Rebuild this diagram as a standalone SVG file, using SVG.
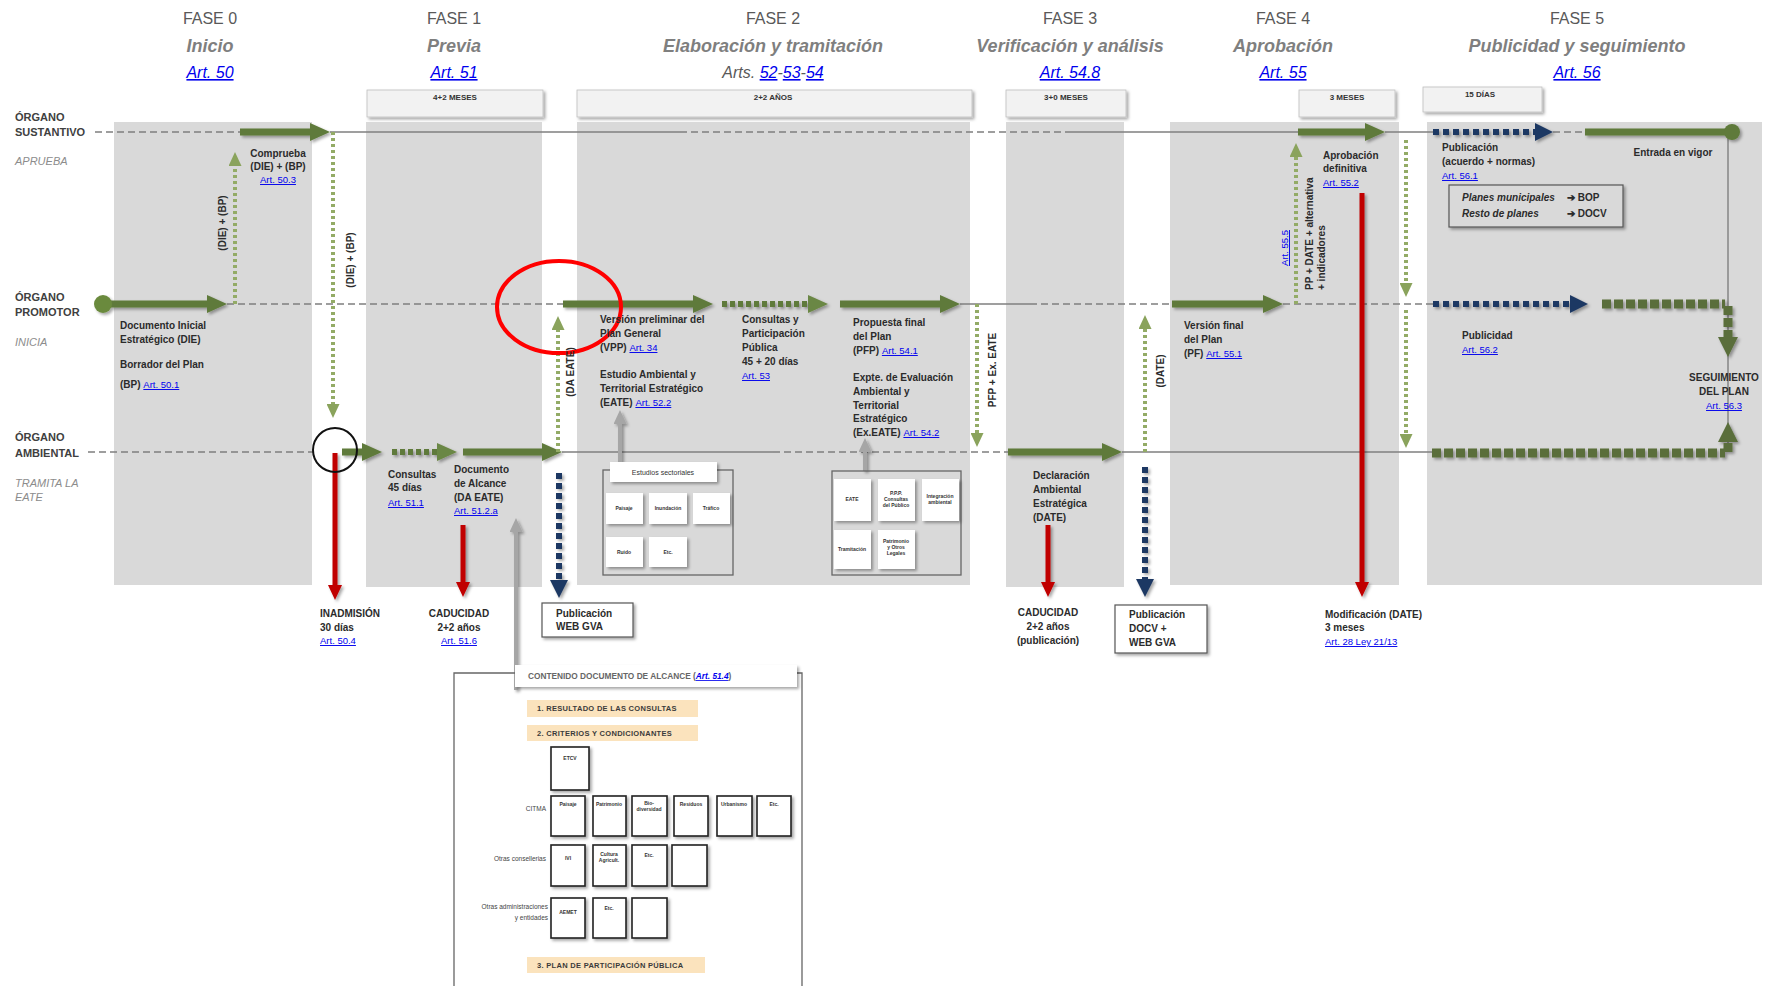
<svg xmlns="http://www.w3.org/2000/svg" width="1765" height="986" viewBox="0 0 1765 986">
<defs>
<style>
text{font-family:"Liberation Sans",Arial,sans-serif;}
.fase{font-size:16px;fill:#595959;text-anchor:middle;}
.ttl{font-size:18px;font-weight:bold;font-style:italic;fill:#7f7f7f;text-anchor:middle;}
.art{font-size:16px;font-style:italic;fill:#0000ee;text-decoration:underline;}
.lane{font-size:11px;font-weight:bold;fill:#404040;}
.role{font-size:11px;font-style:italic;fill:#8c8c8c;}
.t{font-size:10px;font-weight:bold;fill:#2b2b2b;}
.l{font-size:9.5px;fill:#0000ee;text-decoration:underline;font-weight:normal;}
.hd{font-size:8px;font-weight:bold;fill:#333;text-anchor:middle;}
.panel{fill:#d9d9d9;}
.hbox{fill:#f2f2f2;stroke:#bfbfbf;stroke-width:0.8;}
.thick{stroke:#5f7a3b;stroke-width:7;fill:none;}
.dotg{stroke:#93ab66;stroke-width:4;stroke-dasharray:3 3;fill:none;}
.dotd{stroke:#5f7a3b;stroke-width:6;stroke-dasharray:5 3;fill:none;}
.navy{stroke:#1f3864;stroke-width:6;stroke-dasharray:6 4;fill:none;}
.sq{stroke:#5a6e3a;stroke-width:9;stroke-dasharray:9 3;fill:none;}
.red{stroke:#c00000;stroke-width:5;fill:none;}
.gray{stroke:#a6a6a6;stroke-width:4;fill:none;}
.lane-s{stroke:#7f7f7f;stroke-width:1.4;fill:none;}
.lane-d{stroke:#7f7f7f;stroke-width:1.4;stroke-dasharray:7 4;fill:none;}
.card{fill:#fff;stroke:#222;stroke-width:1.6;}
.scard{fill:#fff;stroke:none;}
.ct{font-size:5px;font-weight:bold;fill:#333;text-anchor:middle;}
.bar{fill:#fbe3bd;}
.bt{font-size:7.5px;font-weight:bold;fill:#3b3b3b;letter-spacing:0.3px;}
.side{font-size:6.5px;fill:#444;text-anchor:end;}
</style>
<filter id="sh" x="-20%" y="-20%" width="150%" height="150%">
<feDropShadow dx="2" dy="2" stdDeviation="1.5" flood-color="#000" flood-opacity="0.35"/>
</filter>
<marker id="hG" markerUnits="userSpaceOnUse" markerWidth="20" markerHeight="18" refX="0" refY="9" orient="auto"><path d="M0,0 L20,9 L0,18 z" fill="#5f7a3b"/></marker>
<marker id="hGd" markerUnits="userSpaceOnUse" markerWidth="20" markerHeight="18" refX="0" refY="9" orient="auto"><path d="M0,0 L20,9 L0,18 z" fill="#6b8744"/></marker>
<marker id="hL" markerUnits="userSpaceOnUse" markerWidth="14" markerHeight="13" refX="0" refY="6.5" orient="auto"><path d="M0,0 L14,6.5 L0,13 z" fill="#8aa35c"/></marker>
<marker id="hN" markerUnits="userSpaceOnUse" markerWidth="18" markerHeight="18" refX="0" refY="9" orient="auto"><path d="M0,0 L18,9 L0,18 z" fill="#1f3864"/></marker>
<marker id="hR" markerUnits="userSpaceOnUse" markerWidth="15" markerHeight="14" refX="0" refY="7" orient="auto"><path d="M0,0 L15,7 L0,14 z" fill="#c00000"/></marker>
<marker id="hA" markerUnits="userSpaceOnUse" markerWidth="14" markerHeight="13" refX="0" refY="6.5" orient="auto"><path d="M0,0 L14,6.5 L0,13 z" fill="#a6a6a6"/></marker>
<marker id="hS" markerUnits="userSpaceOnUse" markerWidth="20" markerHeight="20" refX="0" refY="10" orient="auto"><path d="M0,0 L20,10 L0,20 z" fill="#5a6e3a"/></marker>
</defs>
<rect width="1765" height="986" fill="#fff"/>

<!-- headers -->
<g id="headers">
<text class="fase" x="210" y="24">FASE 0</text>
<text class="ttl" x="210" y="52">Inicio</text>
<text class="art" x="210" y="78" text-anchor="middle">Art. 50</text>
<text class="fase" x="454" y="24">FASE 1</text>
<text class="ttl" x="454" y="52">Previa</text>
<text class="art" x="454" y="78" text-anchor="middle">Art. 51</text>
<text class="fase" x="773" y="24">FASE 2</text>
<text class="ttl" x="773" y="52">Elaboración y tramitación</text>
<text x="773" y="78" text-anchor="middle" style="font-size:16px;font-style:italic;fill:#595959">Arts. <tspan fill="#0000ee" text-decoration="underline">52</tspan>-<tspan fill="#0000ee" text-decoration="underline">53</tspan>-<tspan fill="#0000ee" text-decoration="underline">54</tspan></text>
<text class="fase" x="1070" y="24">FASE 3</text>
<text class="ttl" x="1070" y="52">Verificación y análisis</text>
<text class="art" x="1070" y="78" text-anchor="middle">Art. 54.8</text>
<text class="fase" x="1283" y="24">FASE 4</text>
<text class="ttl" x="1283" y="52">Aprobación</text>
<text class="art" x="1283" y="78" text-anchor="middle">Art. 55</text>
<text class="fase" x="1577" y="24">FASE 5</text>
<text class="ttl" x="1577" y="52">Publicidad y seguimiento</text>
<text class="art" x="1577" y="78" text-anchor="middle">Art. 56</text>
</g>

<!-- duration boxes -->
<g id="durations">
<rect class="hbox" x="367" y="90" width="176" height="27" filter="url(#sh)"/>
<text class="hd" x="455" y="100">4+2 MESES</text>
<rect class="hbox" x="577" y="90" width="395" height="27" filter="url(#sh)"/>
<text class="hd" x="773" y="100">2+2 AÑOS</text>
<rect class="hbox" x="1006" y="90" width="120" height="27" filter="url(#sh)"/>
<text class="hd" x="1066" y="100">3+0 MESES</text>
<rect class="hbox" x="1299" y="90" width="96" height="27" filter="url(#sh)"/>
<text class="hd" x="1347" y="100">3 MESES</text>
<rect class="hbox" x="1423" y="87" width="119" height="25" filter="url(#sh)"/>
<text class="hd" x="1480" y="97">15 DÍAS</text>
</g>

<!-- phase panels -->
<g id="panels">
<rect class="panel" x="114" y="122" width="198" height="463"/>
<rect class="panel" x="366" y="122" width="176" height="465"/>
<rect class="panel" x="577" y="122" width="393" height="463"/>
<rect class="panel" x="1006" y="122" width="118" height="465"/>
<rect class="panel" x="1170" y="122" width="229" height="463"/>
<rect class="panel" x="1427" y="122" width="335" height="463"/>
</g>

<!-- lanes -->
<g id="lanes">
<text class="lane" x="15" y="121">ÓRGANO</text>
<text class="lane" x="15" y="136">SUSTANTIVO</text>
<text class="role" x="15" y="165">APRUEBA</text>
<text class="lane" x="15" y="301">ÓRGANO</text>
<text class="lane" x="15" y="316">PROMOTOR</text>
<text class="role" x="15" y="346">INICIA</text>
<text class="lane" x="15" y="441">ÓRGANO</text>
<text class="lane" x="15" y="457">AMBIENTAL</text>
<text class="role" x="15" y="487">TRAMITA LA</text>
<text class="role" x="15" y="501">EATE</text>
<path class="lane-d" d="M95,132 H240"/>
<path class="lane-s" d="M330,132 H680"/>
<path class="lane-d" d="M680,132 H1070"/>
<path class="lane-s" d="M1070,132 H1298"/>
<path class="lane-s" d="M1385,132 H1433"/>
<path class="lane-d" d="M1553,132 H1585"/>
<path class="lane-d" d="M227,304 H563"/>
<path class="lane-s" d="M960,304 H1030"/>
<path class="lane-d" d="M1030,304 H1172"/>
<path class="lane-d" d="M1283,304 H1433"/>
<path class="lane-d" d="M88,452 H313"/>
<path class="lane-s" d="M562,452 H773"/>
<path class="lane-d" d="M773,452 H1008"/>
<path class="lane-s" d="M1122,452 H1432"/>
<path class="lane-s" d="M1728,132 V452" stroke="#666"/>
</g>

<!-- connectors -->
<g id="connectors">
<g filter="url(#sh)">
<line class="thick" x1="240" y1="132" x2="310" y2="132" marker-end="url(#hG)"/>
<line class="thick" x1="103" y1="304" x2="207" y2="304" marker-end="url(#hG)"/>
<circle cx="103" cy="304" r="9" fill="#6b8a3e"/>
<line class="thick" x1="563" y1="304" x2="693" y2="304" marker-end="url(#hG)"/>
<line class="dotd" x1="722" y1="304" x2="808" y2="304" marker-end="url(#hGd)"/>
<line class="thick" x1="840" y1="304" x2="940" y2="304" marker-end="url(#hG)"/>
<line class="thick" x1="1172" y1="304" x2="1263" y2="304" marker-end="url(#hG)"/>
<line class="thick" x1="342" y1="452" x2="362" y2="452" marker-end="url(#hG)"/>
<line class="dotd" x1="392" y1="452" x2="437" y2="452" marker-end="url(#hGd)"/>
<line class="thick" x1="463" y1="452" x2="542" y2="452" marker-end="url(#hG)"/>
<line class="thick" x1="1008" y1="452" x2="1102" y2="452" marker-end="url(#hG)"/>
<line class="thick" x1="1298" y1="132" x2="1365" y2="132" marker-end="url(#hG)"/>
<line class="navy" x1="1433" y1="132" x2="1535" y2="132" marker-end="url(#hN)"/>
<line class="thick" x1="1585" y1="132" x2="1732" y2="132"/>
<circle cx="1732" cy="132" r="8" fill="#5f7a3b"/>
<line class="navy" x1="1433" y1="304" x2="1570" y2="304" marker-end="url(#hN)"/>
<line class="sq" x1="1602" y1="304" x2="1725" y2="304"/>
<line class="sq" x1="1432" y1="453" x2="1725" y2="453"/>
<line class="sq" x1="1728" y1="306" x2="1728" y2="337" stroke-width="6" stroke-dasharray="4 3" marker-end="url(#hS)"/>
<line class="sq" x1="1728" y1="452" x2="1728" y2="442" stroke-width="6" marker-end="url(#hS)"/>
</g>
<line class="dotg" x1="235" y1="304" x2="235" y2="166" marker-end="url(#hL)"/>
<line class="dotg" x1="333" y1="132" x2="333" y2="404" marker-end="url(#hL)"/>
<line class="dotg" x1="558" y1="452" x2="558" y2="330" marker-end="url(#hL)"/>
<line class="dotg" x1="977" y1="304" x2="977" y2="433" marker-end="url(#hL)"/>
<line class="dotg" x1="1145" y1="452" x2="1145" y2="329" marker-end="url(#hL)"/>
<line class="dotg" x1="1296" y1="304" x2="1296" y2="157" marker-end="url(#hL)"/>
<line class="dotg" x1="1406" y1="140" x2="1406" y2="283" marker-end="url(#hL)"/>
<line class="dotg" x1="1406" y1="310" x2="1406" y2="434" marker-end="url(#hL)"/>
<g filter="url(#sh)">
<line class="navy" x1="559" y1="473" x2="559" y2="580" marker-end="url(#hN)"/>
<line class="navy" x1="1145" y1="467" x2="1145" y2="579" marker-end="url(#hN)"/>
<line class="red" x1="335" y1="453" x2="335" y2="585" marker-end="url(#hR)"/>
<line class="red" x1="463" y1="525" x2="463" y2="582" marker-end="url(#hR)"/>
<line class="red" x1="1048" y1="525" x2="1048" y2="582" marker-end="url(#hR)"/>
<line class="red" x1="1362" y1="193" x2="1362" y2="582" marker-end="url(#hR)"/>
<line class="gray" x1="620" y1="462" x2="620" y2="424" marker-end="url(#hA)"/>
<line class="gray" x1="865" y1="471" x2="865" y2="452" marker-end="url(#hA)"/>
<line class="gray" x1="516" y1="690" x2="516" y2="532" marker-end="url(#hA)"/>
</g>
<circle cx="335" cy="450" r="22" fill="none" stroke="#111" stroke-width="2"/>
<ellipse cx="559" cy="307" rx="62" ry="46" fill="none" stroke="#ff0000" stroke-width="4"/>
</g>

<!-- phase 0 nodes -->
<g id="n-comprueba">
<text class="t" x="278" y="157" text-anchor="middle">Comprueba</text>
<text class="t" x="278" y="170" text-anchor="middle">(DIE) + (BP)</text>
<text class="l" x="278" y="183" text-anchor="middle">Art. 50.3</text>
</g>
<g id="n-die">
<text class="t" x="120" y="329">Documento Inicial</text>
<text class="t" x="120" y="343">Estratégico  (DIE)</text>
<text class="t" x="120" y="368">Borrador del Plan</text>
<text class="t" x="120" y="388">(BP) <tspan class="l">Art. 50.1</tspan></text>
</g>
<g id="lbl-rot">
<text class="t" transform="translate(226,223) rotate(-90)" text-anchor="middle" font-size="9.5">(DIE) + (BP)</text>
<text class="t" transform="translate(354,260) rotate(-90)" text-anchor="middle" font-size="9.5">(DIE) + (BP)</text>
<text class="t" transform="translate(574,372) rotate(-90)" text-anchor="middle">(DA EATE)</text>
<text class="t" transform="translate(996,370) rotate(-90)" text-anchor="middle" font-size="9.5">PFP + Ex. EATE</text>
<text class="t" transform="translate(1164,371) rotate(-90)" text-anchor="middle">(DATE)</text>
<text class="l" transform="translate(1288,248) rotate(-90)" text-anchor="middle" font-size="9">Art. 55.5</text>
<text class="t" transform="translate(1313,290) rotate(-90)" font-size="8">PP + DATE + alternativa</text>
<text class="t" transform="translate(1325,290) rotate(-90)" font-size="8">+ indicadores</text>
</g>
<g id="n-inadmision">
<text class="t" x="320" y="617">INADMISIÓN</text>
<text class="t" x="320" y="631" font-weight="normal">30 días</text>
<text class="l" x="320" y="644">Art. 50.4</text>
</g>

<!-- phase 1 -->
<g id="n-consultas1">
<text class="t" x="388" y="478">Consultas</text>
<text class="t" x="388" y="491">45 días</text>
<text class="l" x="388" y="506">Art. 51.1</text>
</g>
<g id="n-alcance">
<text class="t" x="454" y="473">Documento</text>
<text class="t" x="454" y="487">de Alcance</text>
<text class="t" x="454" y="501">(DA EATE)</text>
<text class="l" x="454" y="514">Art. 51.2.a</text>
</g>
<g id="n-caducidad1">
<text class="t" x="459" y="617" text-anchor="middle">CADUCIDAD</text>
<text class="t" x="459" y="631" text-anchor="middle" font-weight="normal">2+2 años</text>
<text class="l" x="459" y="644" text-anchor="middle">Art. 51.6</text>
</g>
<g id="n-webgva">
<rect x="542" y="603" width="91" height="34" fill="#fff" stroke="#555" stroke-width="1.2" filter="url(#sh)"/>
<text class="t" x="556" y="617">Publicación</text>
<text class="t" x="556" y="630">WEB GVA</text>
</g>

<!-- phase 2 -->
<g id="n-vpp">
<text class="t" x="600" y="323">Versión preliminar del</text>
<text class="t" x="600" y="337">Plan General</text>
<text class="t" x="600" y="351">(VPP) <tspan class="l">Art. 34</tspan></text>
</g>
<g id="n-eate">
<text class="t" x="600" y="378">Estudio Ambiental y</text>
<text class="t" x="600" y="392">Territorial Estratégico</text>
<text class="t" x="600" y="406">(EATE) <tspan class="l">Art. 52.2</tspan></text>
</g>
<g id="n-consultas2">
<text class="t" x="742" y="323">Consultas y</text>
<text class="t" x="742" y="337">Participación</text>
<text class="t" x="742" y="351">Pública</text>
<text class="t" x="742" y="365" font-weight="normal">45  + 20 días</text>
<text class="l" x="742" y="379">Art. 53</text>
</g>
<g id="n-pfp">
<text class="t" x="853" y="326">Propuesta final</text>
<text class="t" x="853" y="340">del Plan</text>
<text class="t" x="853" y="354">(PFP) <tspan class="l">Art. 54.1</tspan></text>
</g>
<g id="n-expte">
<text class="t" x="853" y="381">Expte. de Evaluación</text>
<text class="t" x="853" y="395">Ambiental y</text>
<text class="t" x="853" y="409">Territorial</text>
<text class="t" x="853" y="422">Estratégico</text>
<text class="t" x="853" y="436">(Ex.EATE) <tspan class="l">Art. 54.2</tspan></text>
</g>
<g id="n-estudios">
<rect x="603" y="470" width="130" height="105" fill="none" stroke="#666" stroke-width="1.3"/>
<rect x="610" y="462" width="107" height="20" fill="#fff" filter="url(#sh)"/>
<text x="663" y="475" text-anchor="middle" style="font-size:7px;fill:#333">Estudios sectoriales</text>
<g filter="url(#sh)">
<rect class="scard" x="606" y="493" width="37" height="31"/>
<rect class="scard" x="649" y="493" width="38" height="31"/>
<rect class="scard" x="693" y="493" width="37" height="31"/>
<rect class="scard" x="606" y="537" width="37" height="30"/>
<rect class="scard" x="649" y="537" width="38" height="30"/>
</g>
<text class="ct" x="624" y="510">Paisaje</text>
<text class="ct" x="668" y="510">Inundación</text>
<text class="ct" x="711" y="510">Tráfico</text>
<text class="ct" x="624" y="554">Ruido</text>
<text class="ct" x="668" y="554">Etc.</text>
</g>
<g id="n-exptebox">
<rect x="832" y="471" width="129" height="104" fill="none" stroke="#666" stroke-width="1.3"/>
<g filter="url(#sh)">
<rect class="scard" x="834" y="479" width="37" height="42"/>
<rect class="scard" x="878" y="479" width="37" height="42"/>
<rect class="scard" x="922" y="479" width="37" height="42"/>
<rect class="scard" x="834" y="530" width="37" height="39"/>
<rect class="scard" x="878" y="530" width="37" height="39"/>
</g>
<text class="ct" x="852" y="501">EATE</text>
<text class="ct" x="896" y="495">P.P.P.</text>
<text class="ct" x="896" y="501">Consultas</text>
<text class="ct" x="896" y="507">del Público</text>
<text class="ct" x="940" y="498">Integración</text>
<text class="ct" x="940" y="504">ambiental</text>
<text class="ct" x="852" y="551">Tramitación</text>
<text class="ct" x="896" y="543">Patrimonio</text>
<text class="ct" x="896" y="549">y Otros</text>
<text class="ct" x="896" y="555">Legales</text>
</g>

<!-- phase 3 -->
<g id="n-date">
<text class="t" x="1033" y="479">Declaración</text>
<text class="t" x="1033" y="493">Ambiental</text>
<text class="t" x="1033" y="507">Estratégica</text>
<text class="t" x="1033" y="521">(DATE)</text>
</g>
<g id="n-caducidad2">
<text class="t" x="1048" y="616" text-anchor="middle">CADUCIDAD</text>
<text class="t" x="1048" y="630" text-anchor="middle" font-weight="normal">2+2 años</text>
<text class="t" x="1048" y="644" text-anchor="middle" font-weight="normal">(publicación)</text>
</g>
<g id="n-docv">
<rect x="1115" y="605" width="92" height="48" fill="#fff" stroke="#555" stroke-width="1.2" filter="url(#sh)"/>
<text class="t" x="1129" y="618">Publicación</text>
<text class="t" x="1129" y="632">DOCV +</text>
<text class="t" x="1129" y="646">WEB GVA</text>
</g>

<!-- phase 4 -->
<g id="n-pf">
<text class="t" x="1184" y="329">Versión final</text>
<text class="t" x="1184" y="343">del Plan</text>
<text class="t" x="1184" y="357">(PF) <tspan class="l">Art. 55.1</tspan></text>
</g>
<g id="n-aprobacion">
<text class="t" x="1323" y="159">Aprobación</text>
<text class="t" x="1323" y="172">definitiva</text>
<text class="l" x="1323" y="186">Art. 55.2</text>
</g>
<g id="n-modificacion">
<text class="t" x="1325" y="618">Modificación (DATE)</text>
<text class="t" x="1325" y="631" font-weight="normal">3 meses</text>
<text class="l" x="1325" y="645">Art. 28 Ley 21/13</text>
</g>

<!-- phase 5 -->
<g id="n-publicacion">
<text class="t" x="1442" y="151">Publicación</text>
<text class="t" x="1442" y="165">(acuerdo + normas)</text>
<text class="l" x="1442" y="179">Art. 56.1</text>
</g>
<g id="n-boletines">
<rect x="1449" y="185" width="174" height="42" fill="#d9d9d9" stroke="#555" stroke-width="1.2" filter="url(#sh)"/>
<text class="t" x="1462" y="201" font-style="italic">Planes municipales</text>
<text class="t" x="1567" y="201">➔ BOP</text>
<text class="t" x="1462" y="217" font-style="italic">Resto de planes</text>
<text class="t" x="1567" y="217">➔ DOCV</text>
</g>
<g id="n-vigor">
<text class="t" x="1673" y="156" text-anchor="middle">Entrada en vigor</text>
</g>
<g id="n-publicidad">
<text class="t" x="1462" y="339">Publicidad</text>
<text class="l" x="1462" y="353">Art. 56.2</text>
</g>
<g id="n-seguimiento">
<text class="t" x="1724" y="381" text-anchor="middle">SEGUIMIENTO</text>
<text class="t" x="1724" y="395" text-anchor="middle">DEL PLAN</text>
<text class="l" x="1724" y="409" text-anchor="middle">Art. 56.3</text>
</g>

<!-- contenido documento de alcance -->
<g id="n-contenido">
<path d="M454,986 V673 H516 M797,673 H802 V986" fill="none" stroke="#666" stroke-width="1.3"/>
<rect x="515" y="665" width="282" height="22" fill="#fff" filter="url(#sh)"/>
<text x="528" y="679" style="font-size:8.3px;font-weight:bold;fill:#666">CONTENIDO DOCUMENTO DE ALCANCE (<tspan fill="#0000ee" font-style="italic" text-decoration="underline">Art. 51.4</tspan>)</text>
<rect class="bar" x="527" y="700" width="171" height="17"/>
<text class="bt" x="537" y="711">1.  RESULTADO DE LAS CONSULTAS</text>
<rect class="bar" x="527" y="725" width="171" height="16"/>
<text class="bt" x="537" y="736">2.  CRITERIOS  Y  CONDICIONANTES</text>
<g filter="url(#sh)">
<rect class="card" x="551" y="747" width="38" height="43"/>
<rect class="card" x="551" y="796" width="34" height="40"/>
<rect class="card" x="593" y="796" width="33" height="40"/>
<rect class="card" x="632" y="796" width="35" height="40"/>
<rect class="card" x="674" y="796" width="34" height="40"/>
<rect class="card" x="717" y="796" width="35" height="40"/>
<rect class="card" x="757" y="796" width="34" height="40"/>
<rect class="card" x="551" y="845" width="34" height="41"/>
<rect class="card" x="593" y="845" width="33" height="41"/>
<rect class="card" x="632" y="845" width="35" height="41"/>
<rect class="card" x="672" y="845" width="35" height="41"/>
<rect class="card" x="551" y="898" width="34" height="40"/>
<rect class="card" x="593" y="898" width="33" height="40"/>
<rect class="card" x="632" y="898" width="35" height="40"/>
</g>
<text class="ct" x="570" y="760">ETCV</text>
<text class="ct" x="568" y="806">Paisaje</text>
<text class="ct" x="609" y="806">Patrimonio</text>
<text class="ct" x="649" y="805">Bio-</text>
<text class="ct" x="649" y="811">diversidad</text>
<text class="ct" x="691" y="806">Residuos</text>
<text class="ct" x="734" y="806">Urbanismo</text>
<text class="ct" x="774" y="806">Etc.</text>
<text class="ct" x="568" y="860">IVI</text>
<text class="ct" x="609" y="856">Cultura</text>
<text class="ct" x="609" y="862">Agricult.</text>
<text class="ct" x="649" y="857">Etc.</text>
<text class="ct" x="568" y="914">AEMET</text>
<text class="ct" x="609" y="910">Etc.</text>
<text class="side" x="546" y="811" font-size="7.5">CITMA</text>
<text class="side" x="546" y="861">Otras consellerias</text>
<text class="side" x="548" y="909">Otras administraciones</text>
<text class="side" x="548" y="920">y entidades</text>
<rect class="bar" x="527" y="957" width="178" height="16"/>
<text class="bt" x="537" y="968">3.  PLAN DE PARTICIPACIÓN PÚBLICA</text>
</g>
</svg>
